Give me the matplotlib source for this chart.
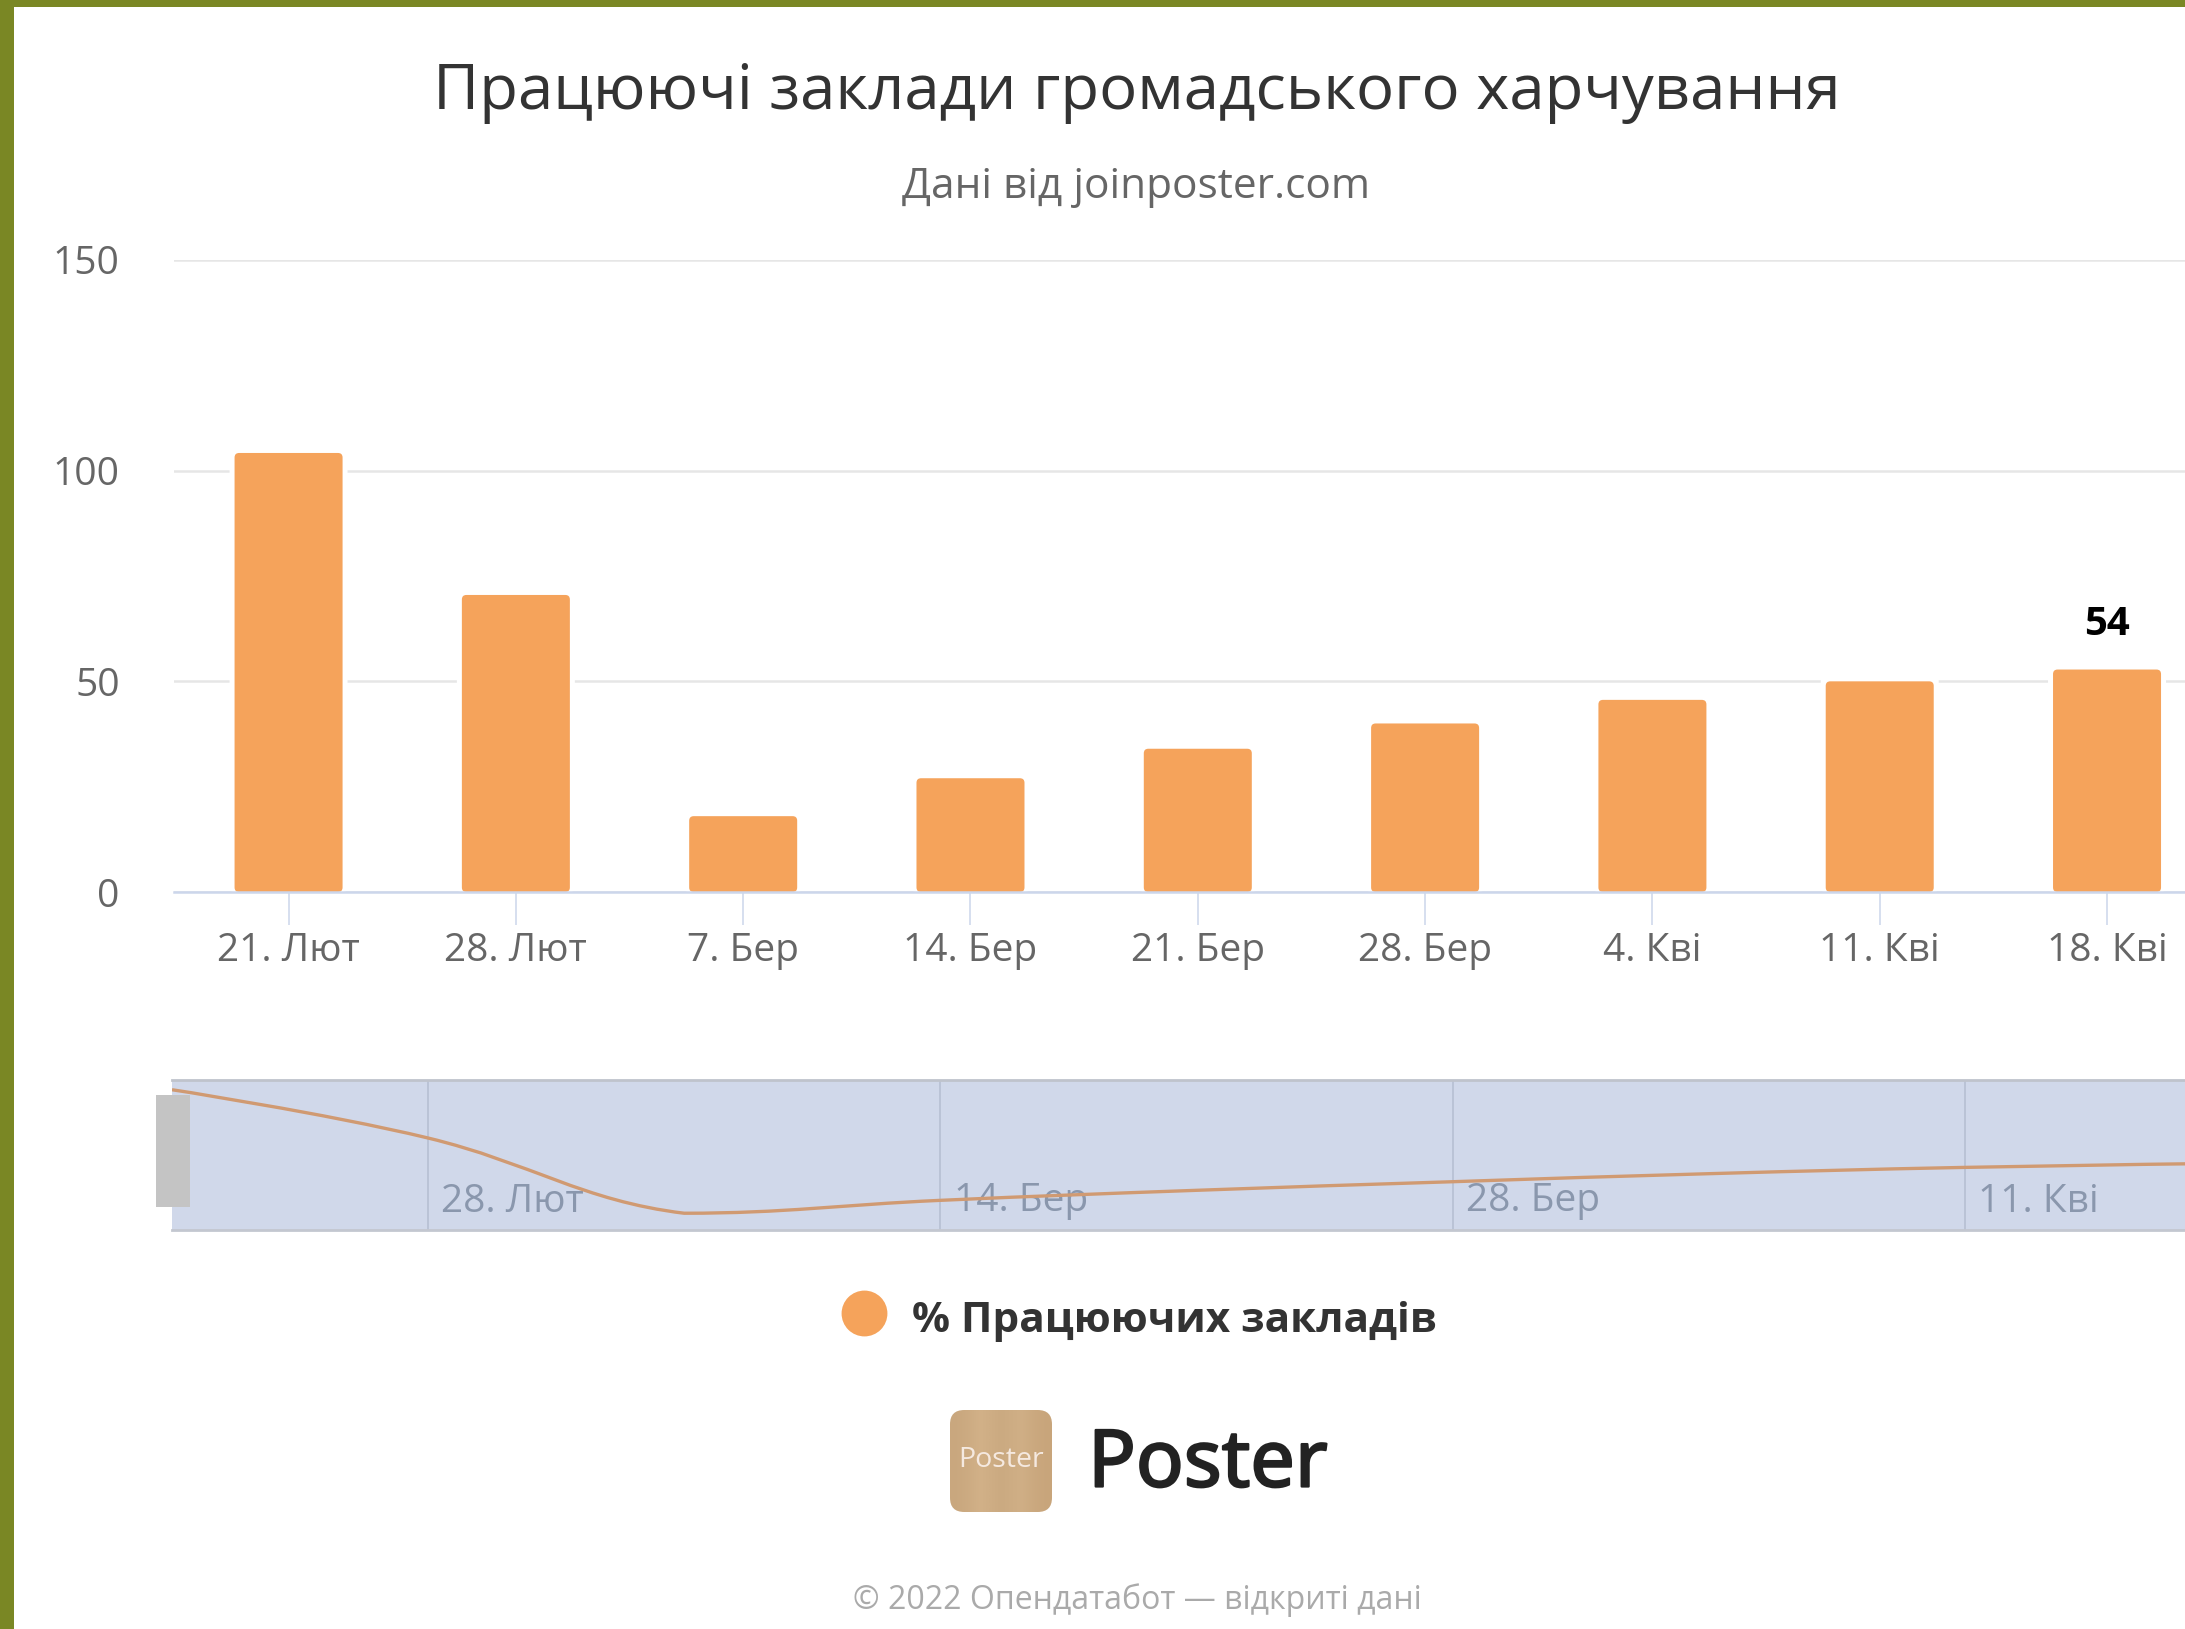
import numpy as np
import matplotlib
matplotlib.use("Agg")
import matplotlib.pyplot as plt
import matplotlib.patheffects as pe
from matplotlib.colors import LinearSegmentedColormap
from matplotlib.lines import Line2D
from matplotlib.patches import FancyBboxPatch, PathPatch, Rectangle
from matplotlib.path import Path

plt.rcParams['font.family'] = ['Open Sans', 'DejaVu Sans']

W, H = 2185, 1629

# chart data
dates = ['21. Лют', '28. Лют', '7. Бер', '14. Бер', '21. Бер', '28. Бер', '4. Кві', '11. Кві', '18. Кві']
values = [104.2, 70.5, 18, 27, 34, 40, 45.6, 50, 52.8]
y_ticks = [0, 50, 100, 150]
shown_label = '54'
nav_ticks = [1, 3, 5, 7]

ORANGE = '#f5a35b'


def rect_px(x0, y0, x1, y1):
    # pixel box (top-left origin) to figure fractions
    return [x0 / W, 1 - y1 / H, (x1 - x0) / W, (y1 - y0) / H]


def fx(x):
    return x / W


def fy(y):
    return 1 - y / H


def spline_path(xs, ys):
    # same smoothing as a highcharts spline series
    verts = [(xs[0], ys[0])]
    codes = [Path.MOVETO]
    n = len(xs)
    s, d = 1.5, 2.5
    for i in range(1, n):
        def conts(j):
            if j <= 0 or j >= n - 1:
                return xs[j], ys[j], xs[j], ys[j]
            lx = (s * xs[j] + xs[j - 1]) / d
            ly = (s * ys[j] + ys[j - 1]) / d
            rx = (s * xs[j] + xs[j + 1]) / d
            ry = (s * ys[j] + ys[j + 1]) / d
            c = (ry - ly) * (rx - xs[j]) / (rx - lx) + ys[j] - ry
            ly += c
            ry += c
            lo, hi = min(ys[j - 1], ys[j]), max(ys[j - 1], ys[j])
            ly = min(max(ly, lo), hi)
            lo, hi = min(ys[j + 1], ys[j]), max(ys[j + 1], ys[j])
            ry = min(max(ry, lo), hi)
            return lx, ly, rx, ry
        _, _, c1x, c1y = conts(i - 1)
        c2x, c2y, _, _ = conts(i)
        verts += [(c1x, c1y), (c2x, c2y), (xs[i], ys[i])]
        codes += [Path.CURVE4, Path.CURVE4, Path.CURVE4]
    return Path(verts, codes)


fig = plt.figure(figsize=(W / 100, H / 100), dpi=100, facecolor='white')

# olive frame
fig.add_artist(Rectangle((0, 0), fx(14), 1, transform=fig.transFigure, color='#7a8724', lw=0))
fig.add_artist(Rectangle((0, fy(7)), 1, fx(W), transform=fig.transFigure, color='#7a8724', lw=0))

# main chart
ax = fig.add_axes(rect_px(174, 260, 2185, 892))
ax.set_xlim(-0.504, 8.343)
ax.set_ylim(0, 150)
ax.patch.set_alpha(0)
for side in ['top', 'left', 'right']:
    ax.spines[side].set_visible(False)
ax.spines['bottom'].set_color('#ccd6eb')
ax.spines['bottom'].set_linewidth(1.8)
ax.set_axisbelow(True)
ax.grid(axis='y', color='#e6e6e6', lw=1.8)
ax.set_yticks(y_ticks)
ax.set_xticks(range(len(dates)))
ax.set_xticklabels(dates)
ax.tick_params(axis='y', length=0, pad=39, labelsize=28, labelcolor='#666666')
ax.tick_params(axis='x', length=24, width=1.1, color='#ccd6eb', pad=5, labelsize=28, labelcolor='#666666')

bar_w = 108 / 227.3
for i, v in enumerate(values):
    for color, grow in [('white', 0.022), (ORANGE, 0)]:
        ax.add_patch(FancyBboxPatch(
            (i - bar_w / 2 - grow, 0), bar_w + 2 * grow, v + grow * 54,
            boxstyle='round,pad=0,rounding_size=0.02', mutation_aspect=54,
            fc=color, ec='none', zorder=2, clip_on=False))
ax.text(8, 63.5, shown_label, ha='center', va='center', fontsize=29, fontweight='bold', color='black')

fig.text(fx(1137), fy(93), 'Працюючі заклади громадського харчування', ha='center', va='center',
         fontsize=45.7, color='#333333')
fig.text(fx(1136), fy(187), 'Дані від joinposter.com', ha='center', va='center', fontsize=30.5, color='#666666')

# navigator
nav = fig.add_axes(rect_px(172, 1080, 2185, 1230))
nav.set_xlim(0, 7.86)
nav.set_ylim(6.3, 111)
nav.set_facecolor('#d0d8ea')
nav.set_xticks([])
nav.set_yticks([])
for side in ['left', 'right']:
    nav.spines[side].set_visible(False)
nav.spines['top'].set_color('#bfc3cc')
nav.spines['top'].set_linewidth(2)
nav.spines['bottom'].set_color('#c3c7d0')
nav.spines['bottom'].set_linewidth(2)
for t in nav_ticks:
    nav.axvline(t, color='#b4bdd0', lw=1.1, zorder=1)
    nav.text(t + 0.052, 0.19, dates[t], transform=nav.get_xaxis_transform(), ha='left', va='center',
             fontsize=28, color='#8a97ad', zorder=2)
nav.add_patch(PathPatch(spline_path(list(range(len(values))), values), fc='none', ec='#d09a72', lw=2.4, zorder=3))

fig.add_artist(FancyBboxPatch((fx(156), fy(1207)), fx(34), 112 / H, boxstyle='square,pad=0',
                              transform=fig.transFigure, fc='#c4c4c4', ec='none'))

# legend
fig.add_artist(Line2D([fx(864)], [fy(1313)], marker='o', ms=33, color=ORANGE, mec='none',
                      transform=fig.transFigure))
fig.text(fx(912), fy(1322), '% Працюючих закладів', ha='left', va='center', fontsize=30.4,
         fontweight='bold', color='#333333')

# poster logo, wood tint clipped to a rounded square
logo = fig.add_axes(rect_px(950, 1410, 1052, 1512))
logo.axis('off')
wood = LinearSegmentedColormap.from_list('wood', ['#c9a77e', '#d2b188', '#cbaa81', '#d0af86', '#c8a57b'])
img = logo.imshow(np.array([[0, 0.25, 0.5, 0.75, 1]]), cmap=wood, aspect='auto', interpolation='bicubic',
                  extent=(0, 1, 0, 1))
clip = FancyBboxPatch((0, 0), 1, 1, boxstyle='round,pad=0,rounding_size=0.14',
                      transform=logo.transAxes, fc='none', ec='none')
logo.add_patch(clip)
img.set_clip_path(clip)
fig.text(fx(1001), fy(1460), 'Poster', ha='center', va='center', fontsize=20.5, color='#f5e9e0')
fig.text(fx(1088), fy(1466), 'Poster', ha='left', va='center', fontsize=57, color='#222222',
         family='Noto Sans', path_effects=[pe.withStroke(linewidth=1.6, foreground='#222222')])

fig.text(fx(1137), fy(1600), '© 2022 Опендатабот — відкриті дані', ha='center', va='center',
         fontsize=23, color='#aaaaaa')

fig.savefig('out.png', dpi=100)
